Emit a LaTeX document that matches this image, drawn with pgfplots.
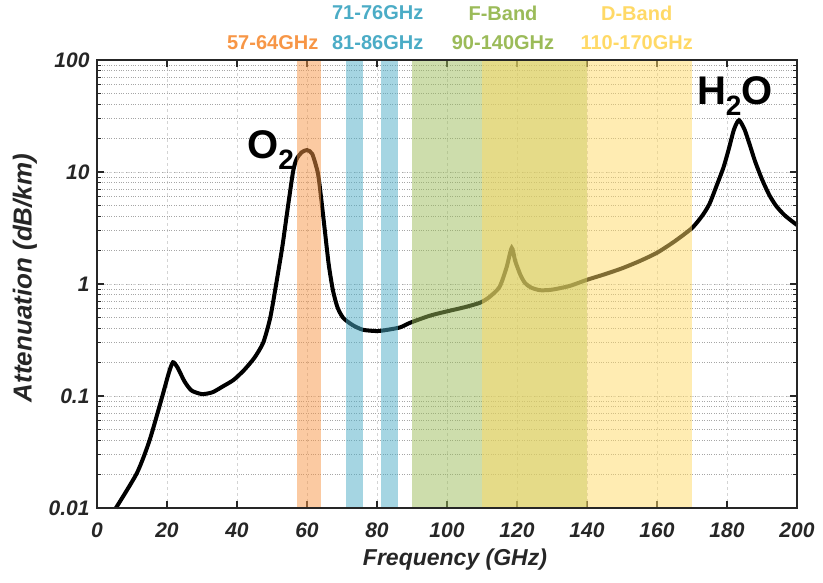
\documentclass[border=0pt]{standalone}
\usepackage{pgfplots}
\pgfplotsset{compat=1.18}
\usepackage{fontspec}
\setmainfont{Liberation Sans}
\definecolor{cOr}{RGB}{247,150,70}
\definecolor{cBl}{RGB}{75,172,198}
\definecolor{cGr}{RGB}{155,187,89}
\definecolor{cYe}{RGB}{255,217,102}
\definecolor{axc}{RGB}{38,38,38}
\newcommand{\tl}[1]{\textbf{\textit{#1}}}
\begin{document}
\begin{tikzpicture}[x=1pt,y=1pt]
\path[use as bounding box] (-97,-75) rectangle (726,508);
\begin{axis}[name=ax, at={(0,0)}, anchor=south west, scale only axis,
  width=700pt, height=448pt,
  xmin=0, xmax=200, ymin=0.01, ymax=100, ymode=log,
  xtick={0,20,...,200},
  xticklabels={\tl{0},\tl{20},\tl{40},\tl{60},\tl{80},\tl{100},\tl{120},\tl{140},\tl{160},\tl{180},\tl{200}},
  ytick={0.01,0.1,1,10,100},
  yticklabels={\tl{0.01},\tl{0.1},\tl{1},\tl{10},\tl{100}},
  tick align=inside,
  major tick length=7pt, minor tick length=4pt,
  grid=both,
  major grid style={dashed, color=black!17, line width=0.8pt},
  minor grid style={dotted, color=black!35, line width=0.9pt},
  axis line style={axc, line width=1.3pt},
  tick style={axc, line width=1.1pt},
  ticklabel style={font=\fontsize{21}{24}\selectfont\bfseries\itshape, text=axc},
  xticklabel style={yshift=-11pt},
  yticklabel style={xshift=-4pt},
  xlabel={\tl{Frequency (GHz)}}, ylabel={\tl{Attenuation (dB/km)}},
  every axis x label/.style={at={(axis description cs:0.5,0)}, yshift=-52pt, xshift=8pt, anchor=center,
     font=\fontsize{23}{26}\selectfont\bfseries\itshape, text=axc},
  every axis y label/.style={at={(axis description cs:0,0.5)}, xshift=-72pt, yshift=6pt, rotate=90, anchor=center,
     font=\fontsize{26}{30}\selectfont\bfseries\itshape, text=axc},
  clip=false,
]
\addplot[black, line width=4pt, smooth, tension=0.4] coordinates {
(5.4,0.010) (11.4,0.0205) (15,0.040) (18.6,0.098) (20.5,0.16) (21.7,0.20)
(23,0.18) (25,0.135) (27,0.112) (30,0.104) (33,0.108) (36,0.122) (39,0.139)
(42,0.17) (45,0.22) (47.5,0.30) (49.5,0.50) (51.4,1.09) (53,2.2) (54.3,4.3)
(56,10) (57,13) (58.5,15) (60,15.7) (61.5,14.5) (63.1,9.8) (64,6) (65.1,3.0)
(66.2,1.5) (67.4,0.88) (68.7,0.62) (70.3,0.50) (73,0.43) (76,0.39) (80,0.38)
(83,0.39) (86.6,0.41) (89.4,0.45) (95,0.52) (100,0.57) (105,0.62) (109.4,0.68)
(112,0.76) (115,0.94) (117,1.4) (118.5,2.1) (119.5,1.6) (121,1.2) (122.3,1.02)
(124,0.93) (126.6,0.88) (130,0.89) (135,0.96) (140,1.09) (145,1.22) (150,1.38)
(155,1.6) (160,1.9) (165,2.4) (170,3.16) (173,4.1) (175,5.2) (177,7.5)
(179,11) (180.5,16) (182,24) (183.4,29) (185,24) (186.5,17.5) (188,12.5)
(190,8.6) (192,6.3) (194,5.0) (196.5,4.1) (200,3.36)
};
\addplot[draw=none, fill=cOr, fill opacity=0.5] coordinates {(57,0.01) (64,0.01) (64,100) (57,100)} -- cycle;
\addplot[draw=none, fill=cBl, fill opacity=0.5] coordinates {(71,0.01) (76,0.01) (76,100) (71,100)} -- cycle;
\addplot[draw=none, fill=cBl, fill opacity=0.5] coordinates {(81,0.01) (86,0.01) (86,100) (81,100)} -- cycle;
\addplot[draw=none, fill=cGr, fill opacity=0.5] coordinates {(90,0.01) (140,0.01) (140,100) (90,100)} -- cycle;
\addplot[draw=none, fill=cYe, fill opacity=0.5] coordinates {(110,0.01) (170,0.01) (170,100) (110,100)} -- cycle;
\draw[axc, line width=1.3pt] (rel axis cs:0,0) rectangle (rel axis cs:1,1);
\node[font=\fontsize{20}{24}\selectfont\bfseries, text=cOr] at (rel axis cs:0.251,1.038) {57-64GHz};
\node[font=\fontsize{20}{24}\selectfont\bfseries, text=cBl] at (rel axis cs:0.401,1.105) {71-76GHz};
\node[font=\fontsize{20}{24}\selectfont\bfseries, text=cBl] at (rel axis cs:0.401,1.038) {81-86GHz};
\node[font=\fontsize{20}{24}\selectfont\bfseries, text=cGr] at (rel axis cs:0.580,1.105) {F-Band};
\node[font=\fontsize{20}{24}\selectfont\bfseries, text=cGr] at (rel axis cs:0.580,1.038) {90-140GHz};
\node[font=\fontsize{20}{24}\selectfont\bfseries, text=cYe] at (rel axis cs:0.771,1.105) {D-Band};
\node[font=\fontsize{20}{24}\selectfont\bfseries, text=cYe] at (rel axis cs:0.771,1.038) {110-170GHz};
\node[font=\fontsize{40}{44}\selectfont\bfseries] at (axis cs:49.7,15.7) {O\textsubscript{2}};
\node[font=\fontsize{40}{44}\selectfont\bfseries] at (axis cs:182.3,47.6) {H\textsubscript{2}O};
\end{axis}
\end{tikzpicture}
\end{document}
